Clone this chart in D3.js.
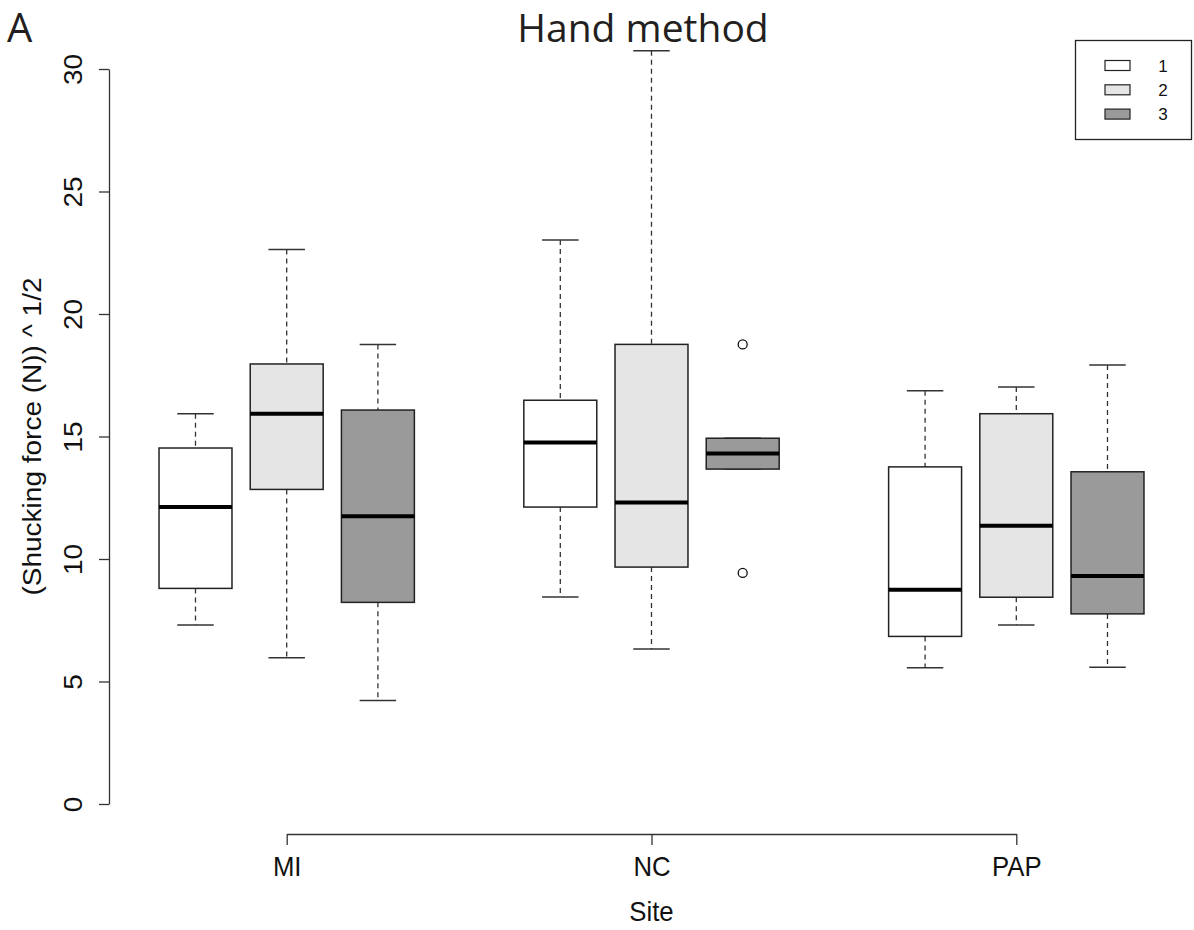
<!DOCTYPE html>
<html>
<head>
<meta charset="utf-8">
<script src="https://cdn.jsdelivr.net/npm/d3@7"></script>
<style>
  body { margin: 0; background: #fff; }
  svg { display: block; }
</style>
</head>
<body>
<div id="chart"></div>
<script>
// data (square-root shucking force)
var sites = ["MI", "NC", "PAP"];
var groups = ["1", "2", "3"];
var boxSite  = ["MI", "MI", "MI", "NC", "NC", "NC", "PAP", "PAP", "PAP"];
var boxGroup = ["1", "2", "3", "1", "2", "3", "1", "2", "3"];
var whiskerLow  = [7.31, 5.97, 4.22, 8.45, 6.33, 13.67, 5.56, 7.31, 5.58];
var q1          = [8.80, 12.84, 8.23, 12.12, 9.67, 13.67, 6.84, 8.44, 7.76];
var median      = [12.12, 15.93, 11.74, 14.76, 12.31, 14.31, 8.75, 11.36, 9.31];
var q3          = [14.53, 17.96, 16.08, 16.48, 18.76, 14.93, 13.76, 15.93, 13.56];
var whiskerHigh = [15.93, 22.63, 18.76, 23.02, 30.75, 14.93, 16.87, 17.02, 17.92];
var outliers    = [[], [], [], [], [], [18.76, 9.43], [], [], []];
var yTicks = [0, 5, 10, 15, 20, 25, 30];
var groupFill = {"1": "#ffffff", "2": "#e4e5e4", "3": "#9a9a9a"};

var width = 1194, height = 930;
var squeeze = 0.92; // the original's text is a bit narrow

var svg = d3.select("#chart").append("svg")
    .attr("width", width)
    .attr("height", height)
    .style("font-family", "'Liberation Sans', Arial, sans-serif");

// box positions 1..11 with a gap between sites (like R's at=)
var pos = boxSite.map(function(s, i) {
  return sites.indexOf(s) * 4 + groups.indexOf(boxGroup[i]) + 1;
});

var x = d3.scaleLinear().domain([1, 11]).range([195.5, 1107.5]);
var y = d3.scaleLinear().domain([0, 30]).range([804, 69]);
var boxW = x(1.8) - x(1);

// y axis
var yAxis = svg.append("g")
    .attr("transform", "translate(109,0)")
    .call(d3.axisLeft(y).tickValues(yTicks).tickSize(10).tickSizeOuter(0));
yAxis.select(".domain").attr("stroke", "#333").attr("stroke-width", 1.3);
yAxis.selectAll(".tick line").attr("stroke", "#333").attr("stroke-width", 1.3);
yAxis.selectAll(".tick text")
    .attr("x", 0).attr("y", 0).attr("dy", 0)
    .attr("transform", "translate(-27,0) rotate(-90) scale(1," + squeeze + ")")
    .style("text-anchor", "middle")
    .style("font-size", "28px")
    .style("font-family", "'Liberation Sans', Arial, sans-serif")
    .attr("fill", "#111");

// x axis (site labels at the middle box of each group)
var xSite = d3.scalePoint().domain(sites).range([x(2), x(10)]);
var xAxis = svg.append("g")
    .attr("transform", "translate(0,834)")
    .call(d3.axisBottom(xSite).tickSize(11).tickSizeOuter(0));
xAxis.select(".domain").attr("stroke", "#333").attr("stroke-width", 1.3);
xAxis.selectAll(".tick line").attr("stroke", "#333").attr("stroke-width", 1.3);
xAxis.selectAll(".tick text")
    .attr("y", 0).attr("dy", 0)
    .attr("transform", "translate(0,42) scale(" + squeeze + ",1)")
    .style("font-size", "28px")
    .style("font-family", "'Liberation Sans', Arial, sans-serif")
    .attr("fill", "#111");

// axis titles
svg.append("text")
    .attr("transform", "translate(" + x(6) + ",921) scale(" + squeeze + ",1)")
    .attr("text-anchor", "middle")
    .style("font-size", "28px")
    .attr("fill", "#111")
    .text("Site");

svg.append("text")
    .attr("transform", "translate(41," + y(15) + ") rotate(-90) scale(1," + squeeze + ")")
    .attr("text-anchor", "middle")
    .style("font-size", "28px")
    .attr("fill", "#111")
    .text("(Shucking force (N)) ^ 1/2");

// title and panel letter
svg.append("text")
    .attr("x", 643).attr("y", 42)
    .attr("text-anchor", "middle")
    .style("font-family", "'Open Sans', 'Noto Sans', sans-serif")
    .style("font-size", "39px")
    .attr("fill", "#231f20")
    .text("Hand method");

svg.append("text")
    .attr("x", 7).attr("y", 42)
    .style("font-family", "'Open Sans', 'Noto Sans', sans-serif")
    .style("font-size", "40px")
    .attr("fill", "#231f20")
    .text("A");

// boxes
var boxes = svg.append("g").selectAll("g")
    .data(d3.range(boxSite.length))
  .enter().append("g");

// dashed whiskers
boxes.append("line")
    .attr("x1", function(i) { return x(pos[i]); })
    .attr("x2", function(i) { return x(pos[i]); })
    .attr("y1", function(i) { return y(whiskerHigh[i]); })
    .attr("y2", function(i) { return y(q3[i]); })
    .attr("stroke", "#333").attr("stroke-width", 1.3)
    .attr("stroke-dasharray", "5,4");
boxes.append("line")
    .attr("x1", function(i) { return x(pos[i]); })
    .attr("x2", function(i) { return x(pos[i]); })
    .attr("y1", function(i) { return y(q1[i]); })
    .attr("y2", function(i) { return y(whiskerLow[i]); })
    .attr("stroke", "#333").attr("stroke-width", 1.3)
    .attr("stroke-dasharray", "5,4");

// whisker caps
[whiskerHigh, whiskerLow].forEach(function(arr) {
  boxes.append("line")
      .attr("x1", function(i) { return x(pos[i]) - boxW / 4; })
      .attr("x2", function(i) { return x(pos[i]) + boxW / 4; })
      .attr("y1", function(i) { return y(arr[i]); })
      .attr("y2", function(i) { return y(arr[i]); })
      .attr("stroke", "#333").attr("stroke-width", 1.5);
});

boxes.append("rect")
    .attr("x", function(i) { return x(pos[i]) - boxW / 2; })
    .attr("y", function(i) { return y(q3[i]); })
    .attr("width", boxW)
    .attr("height", function(i) { return y(q1[i]) - y(q3[i]); })
    .attr("fill", function(i) { return groupFill[boxGroup[i]]; })
    .attr("stroke", "#222").attr("stroke-width", 1.5);

boxes.append("line")
    .attr("x1", function(i) { return x(pos[i]) - boxW / 2; })
    .attr("x2", function(i) { return x(pos[i]) + boxW / 2; })
    .attr("y1", function(i) { return y(median[i]); })
    .attr("y2", function(i) { return y(median[i]); })
    .attr("stroke", "#000").attr("stroke-width", 4);

// outlier points
boxes.each(function(i) {
  d3.select(this).selectAll("circle")
      .data(outliers[i])
    .enter().append("circle")
      .attr("cx", x(pos[i]))
      .attr("cy", function(d) { return y(d); })
      .attr("r", 4.5)
      .attr("fill", "none")
      .attr("stroke", "#111").attr("stroke-width", 1.3);
});

// legend
var legend = svg.append("g");
legend.append("rect")
    .attr("x", 1075.5).attr("y", 40.5)
    .attr("width", 116).attr("height", 99)
    .attr("fill", "#fff")
    .attr("stroke", "#222").attr("stroke-width", 1.3);

var items = legend.selectAll("g.item")
    .data(groups)
  .enter().append("g")
    .attr("class", "item")
    .attr("transform", function(d, i) { return "translate(0," + (65.5 + i * 24.3) + ")"; });
items.append("rect")
    .attr("x", 1105).attr("y", -5)
    .attr("width", 25).attr("height", 10)
    .attr("fill", function(d) { return groupFill[d]; })
    .attr("stroke", "#222").attr("stroke-width", 1.2);
items.append("text")
    .attr("x", 1163).attr("y", 6)
    .attr("text-anchor", "middle")
    .style("font-size", "17px")
    .attr("fill", "#111")
    .text(function(d) { return d; });
</script>
</body>
</html>
